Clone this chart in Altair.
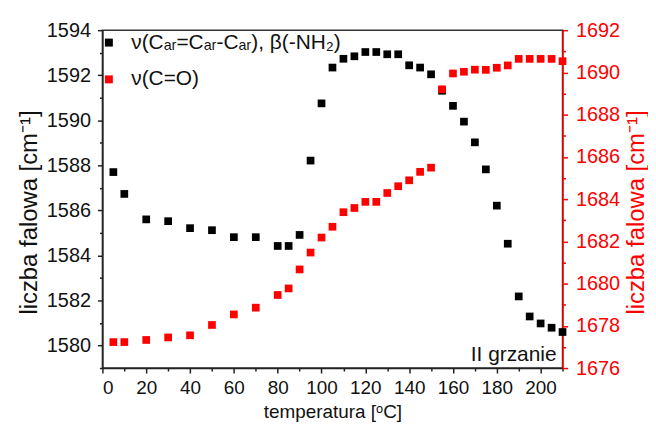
import altair as alt
import pandas as pd

FONT = "Liberation Sans"

temperature = [5, 10, 20, 30, 40, 50, 60, 70, 80, 85, 90, 95, 100, 105, 110, 115, 120,
               125, 130, 135, 140, 145, 150, 155, 160, 165, 170, 175, 180, 185, 190,
               195, 200, 205, 210]
nu_ring = [1587.70, 1586.73, 1585.60, 1585.52, 1585.21, 1585.12, 1584.81, 1584.81,
           1584.42, 1584.42, 1584.91, 1588.21, 1590.75, 1592.34, 1592.73, 1592.84,
           1593.03, 1593.03, 1592.93, 1592.93, 1592.44, 1592.34, 1592.04, 1591.31,
           1590.64, 1589.94, 1589.02, 1587.82, 1586.21, 1584.52, 1582.18, 1581.29,
           1580.98, 1580.79, 1580.60]
nu_co = [1677.23, 1677.23, 1677.33, 1677.45, 1677.55, 1678.04, 1678.54, 1678.86,
         1679.46, 1679.77, 1680.67, 1681.47, 1682.18, 1682.69, 1683.38, 1683.58,
         1683.87, 1683.87, 1684.29, 1684.61, 1684.89, 1685.29, 1685.49, 1689.20,
         1689.95, 1690.03, 1690.13, 1690.12, 1690.22, 1690.33, 1690.64, 1690.64,
         1690.64, 1690.64, 1690.53]

label_ring = "ν(Cₐᵣ=Cₐᵣ-Cₐᵣ), β(-NH₂)"
label_co = "ν(C=O)"

x_major = list(range(0, 201, 20))
x_minor = list(range(10, 211, 20))
yl_major = list(range(1580, 1595, 2))
yl_minor = list(range(1579, 1594, 2))
yr_major = list(range(1676, 1693, 2))
yr_minor = list(range(1677, 1692, 2))

df_ring = pd.DataFrame({"t": temperature, "v": nu_ring, "s": label_ring})
df_co = pd.DataFrame({"t": temperature, "v": nu_co, "s": label_co})

xs = alt.Scale(domain=[0, 210], nice=False, zero=False)
yls = alt.Scale(domain=[1579, 1594], nice=False, zero=False)
yrs = alt.Scale(domain=[1676, 1692], nice=False, zero=False)

color = alt.Color(
    "s:N",
    scale=alt.Scale(domain=[label_ring, label_co], range=["#000000", "#ff0000"]),
    legend=alt.Legend(
        orient="none", legendX=-4, legendY=2, title=None, padding=0,
        symbolType="square", symbolSize=64, symbolStrokeWidth=0,
        labelFontSize=21, labelFont=FONT, labelColor="#111111",
        labelOffset=12, rowPadding=15, labelLimit=400,
    ),
)

black_major_x = alt.Axis(values=x_major, orient="bottom", tickSize=5, tickWidth=1.5,
                         domainWidth=1.5, domainColor="#222222", tickColor="#222222",
                         labelFontSize=19, labelFont=FONT, labelColor="#111111",
                         labelPadding=6, title="temperatura [ᵒC]", titleFontSize=19,
                         titleFont=FONT, titleFontWeight="normal", titleColor="#111111",
                         titlePadding=5, grid=False)
black_minor_x = alt.Axis(values=x_minor, orient="bottom", tickSize=3, tickWidth=1.5,
                         tickColor="#222222", labels=False, domain=False, grid=False,
                         title="")
left_major_y = alt.Axis(values=yl_major, orient="left", tickSize=5, tickWidth=1.5,
                        domainWidth=1.5, domainColor="#222222", tickColor="#222222",
                        labelFontSize=20, labelFont=FONT, labelColor="#111111",
                        labelPadding=7, format="d", title="liczba falowa [cm⁻¹]",
                        titleFontSize=24, titleFont=FONT, titleFontWeight="normal",
                        titleColor="#111111", titlePadding=5, titleY=183, grid=False)
left_minor_y = alt.Axis(values=yl_minor, orient="left", tickSize=3, tickWidth=1.5,
                        tickColor="#222222", labels=False, domain=False, grid=False,
                        title="")
right_major_y = alt.Axis(values=yr_major, orient="right", tickSize=5, tickWidth=1.5,
                         domainWidth=1.5, domainColor="#ff0000", tickColor="#ff0000",
                         labelFontSize=20, labelFont=FONT, labelColor="#ff0000",
                         labelPadding=8, format="d", title="liczba falowa [cm⁻¹]",
                         titleFontSize=24, titleFont=FONT, titleFontWeight="normal",
                         titleColor="#ff0000", titlePadding=5, titleAngle=270,
                         titleBaseline="top", titleY=183, grid=False)
right_minor_y = alt.Axis(values=yr_minor, orient="right", tickSize=3, tickWidth=1.5,
                         tickColor="#ff0000", labels=False, domain=False, grid=False,
                         title="")

ring_pts = alt.Chart(df_ring).mark_square(size=60, opacity=1).encode(
    x=alt.X("t:Q", scale=xs, axis=black_major_x),
    y=alt.Y("v:Q", scale=yls, axis=left_major_y),
    color=color,
)
ring_minor = alt.Chart(df_ring).mark_point(opacity=0).encode(
    x=alt.X("t:Q", scale=xs, axis=black_minor_x),
    y=alt.Y("v:Q", scale=yls, axis=left_minor_y),
)
co_pts = alt.Chart(df_co).mark_square(size=60, opacity=1).encode(
    x=alt.X("t:Q", scale=xs, axis=None),
    y=alt.Y("v:Q", scale=yrs, axis=right_major_y),
    color=color,
)
co_minor = alt.Chart(df_co).mark_point(opacity=0).encode(
    x=alt.X("t:Q", scale=xs, axis=None),
    y=alt.Y("v:Q", scale=yrs, axis=right_minor_y),
)
note = alt.Chart(pd.DataFrame({"txt": ["II grzanie"]})).mark_text(
    align="right", baseline="alphabetic", fontSize=21, font=FONT, color="#111111"
).encode(x=alt.value(457), y=alt.value(333), text="txt:N")

chart = alt.layer(ring_pts, ring_minor, co_pts, co_minor, note).resolve_scale(
    y="independent"
).resolve_axis(x="independent", y="independent").properties(
    width=463, height=340,
    autosize=alt.AutoSizeParams(type="none"),
    padding={"left": 95, "top": 21, "right": 86, "bottom": 57},
    background="white",
).configure_view(stroke="#333333", strokeWidth=1.5)

chart.save("out.html", embed_options={"renderer": "svg", "actions": False})
